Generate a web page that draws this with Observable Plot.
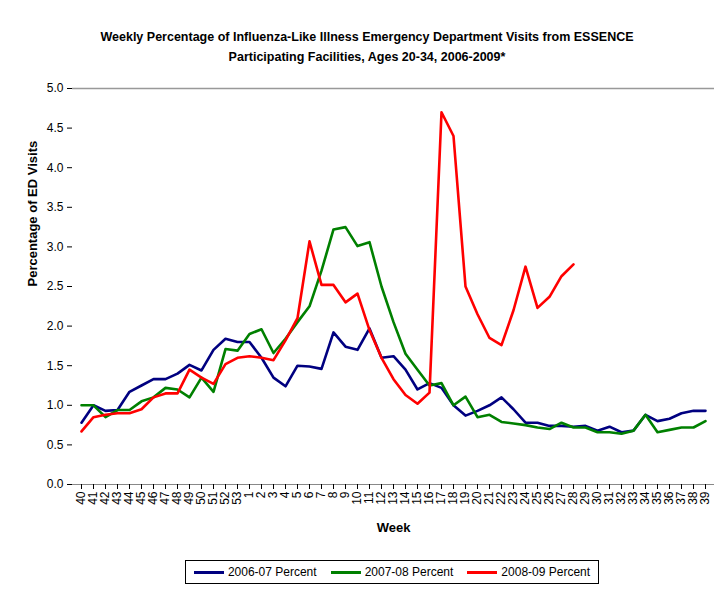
<!DOCTYPE html>
<html><head>
<script src="https://cdn.jsdelivr.net/npm/d3@7"></script>
<script src="https://cdn.jsdelivr.net/npm/@observablehq/plot@0.6"></script>
<style>
body{margin:0;background:#fff;font-family:"Liberation Sans",Arial,sans-serif;}
#title{height:78px;box-sizing:border-box;padding-top:27px;text-align:center;font-weight:bold;font-size:12.5px;line-height:20px;padding-left:20px;}
#legend{display:flex;justify-content:center;margin-top:12px;padding-left:70px}
#legend .box{border:1px solid #000;padding:4px 8px;display:flex;gap:14px;font-size:12px}
#legend span i{display:inline-block;width:30px;height:3px;vertical-align:middle;margin-right:4px}
</style>
</head><body>
<div id="title">Weekly Percentage of Influenza-Like Illness Emergency Department Visits from ESSENCE<br>Participating Facilities, Ages 20-34, 2006-2009*</div>
<div id="chart"></div>
<div id="legend"><div class="box">
<span><i style="background:#000080"></i>2006-07 Percent</span>
<span><i style="background:#008000"></i>2007-08 Percent</span>
<span><i style="background:#ff0000"></i>2008-09 Percent</span>
</div></div>
<script>
const weeks = [40,41,42,43,44,45,46,47,48,49,50,51,52,53,1,2,3,4,5,6,7,8,9,10,11,12,13,14,15,16,17,18,19,20,21,22,23,24,25,26,27,28,29,30,31,32,33,34,35,36,37,38,39].map(String)
const s0607 = [0.78,1.0,0.93,0.94,1.17,1.25,1.33,1.33,1.40,1.51,1.44,1.7,1.84,1.8,1.8,1.6,1.35,1.24,1.5,1.49,1.46,1.92,1.74,1.7,1.97,1.6,1.62,1.45,1.2,1.28,1.22,1.0,0.87,0.93,1.0,1.1,0.95,0.78,0.78,0.74,0.74,0.73,0.74,0.68,0.73,0.66,0.68,0.88,0.8,0.83,0.9,0.93,0.93]
const s0708 = [1.0,1.0,0.85,0.94,0.94,1.05,1.1,1.22,1.2,1.1,1.35,1.17,1.71,1.69,1.9,1.96,1.66,1.84,2.05,2.25,2.7,3.22,3.25,3.01,3.06,2.5,2.05,1.65,1.45,1.25,1.28,1.0,1.11,0.85,0.88,0.79,0.77,0.75,0.72,0.7,0.78,0.72,0.72,0.66,0.66,0.64,0.68,0.88,0.66,0.69,0.72,0.72,0.8]
const s0809 = [0.67,0.85,0.88,0.9,0.9,0.95,1.1,1.15,1.15,1.45,1.35,1.27,1.52,1.6,1.62,1.6,1.57,1.82,2.1,3.07,2.52,2.52,2.3,2.41,1.95,1.6,1.33,1.13,1.02,1.16,4.7,4.4,2.5,2.15,1.85,1.76,2.2,2.75,2.23,2.37,2.63,2.78]
const series = [["2006-07 Percent", s0607], ["2007-08 Percent", s0708], ["2008-09 Percent", s0809]]
const colors = ["#000080", "#008000", "#ff0000"]

const rows = series.flatMap(([name, vals]) => vals.map((v, i) => ({week: weeks[i], value: v, series: name})))

let chart = Plot.plot({
  width: 714, height: 470,
  marginLeft: 72, marginRight: 0, marginTop: 10, marginBottom: 64,
  style: {fontFamily: "Liberation Sans, Arial, sans-serif", fontSize: "12px", color: "#000"},
  x: {type: "point", domain: weeks, padding: 0.5, label: null},
  y: {domain: [0, 5], label: null},
  color: {domain: series.map(d => d[0]), range: colors},
  marks: [
    Plot.ruleY([5], {stroke: "#999", strokeWidth: 1.5}),
    Plot.ruleX([0], {frameAnchor: "left", stroke: "#888"}),
    Plot.ruleY([0], {stroke: "#888"}),
    Plot.axisY({ticks: d3.range(0, 5.01, 0.5), tickFormat: d3.format(".1f"), tickSize: 5, fontSize: 12}),
    Plot.axisX({tickRotate: -90, tickSize: 5, fontSize: 12, tickPadding: 2}),
    Plot.line(rows, {x: "week", y: "value", z: "series", stroke: "series", strokeWidth: 2.6}),
    Plot.text(["Week"], {frameAnchor: "bottom", dy: 47, fontWeight: "bold", fontSize: 13}),
    Plot.text(["Percentage of ED Visits"], {frameAnchor: "left", dx: -40, rotate: -90, fontWeight: "bold", fontSize: 13})
  ]
})

d3.select('#chart').append(() => chart)
</script>
</body></html>
